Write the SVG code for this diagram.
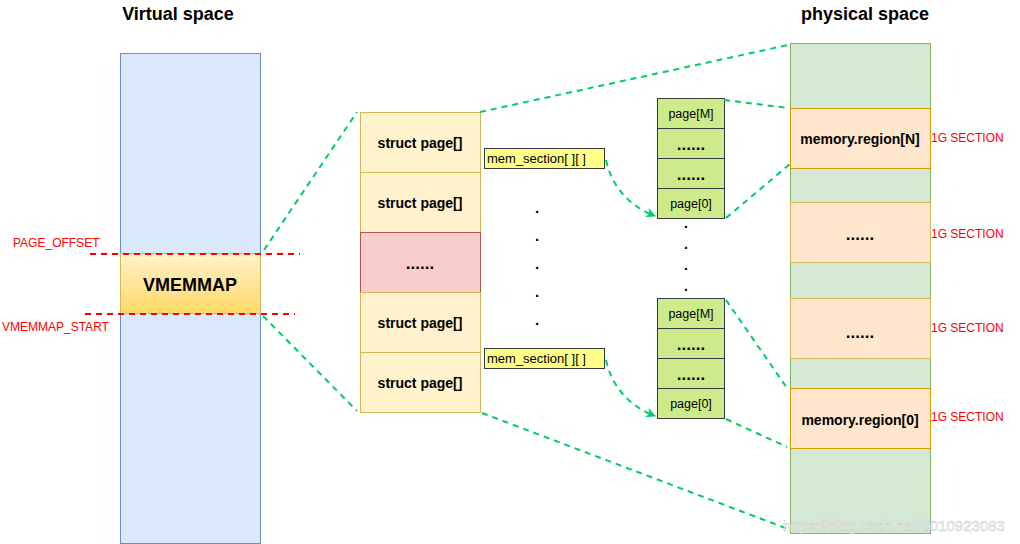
<svg xmlns="http://www.w3.org/2000/svg" width="1020" height="544" viewBox="0 0 1020 544">
<style>
text{font-family:"Liberation Sans",Arial,sans-serif;text-anchor:middle;dominant-baseline:central}
.title{font-size:18px;font-weight:bold;fill:#000}
.sp{fill:#fff2cc;stroke:#d6b656;stroke-width:1}
.spt{font-size:14px;font-weight:bold;fill:#000}
.ms{fill:#ffff88;stroke:#36393d;stroke-width:1}
.mst{font-size:13px;fill:#000;text-anchor:start}
.pg{fill:#cdeb8b;stroke:#36393d;stroke-width:1}
.pgt{font-size:12.5px;fill:#000}
.dd{font-size:17px;font-weight:bold;fill:#000}
.grn{fill:#d5e8d4;stroke:#82b366;stroke-width:1}
.org{fill:#ffe6cc;stroke:#d79b00;stroke-width:1}
.sec{font-size:12px;fill:#ff0000;text-anchor:start}
.red{font-size:12px;fill:#ff0000;text-anchor:start}
.rdash{stroke:#ff0000;stroke-width:2;stroke-dasharray:6 5;fill:none}
.gdash{stroke:#00cc66;stroke-width:2;stroke-dasharray:6 5;fill:none}
</style>
<defs>
<linearGradient id="vg" x1="0" y1="0" x2="0" y2="1">
<stop offset="0" stop-color="#fff2cc"/>
<stop offset="1" stop-color="#ffd966"/>
</linearGradient>
<marker id="ah" viewBox="0 0 10 10" refX="9" refY="5" markerWidth="5" markerHeight="5" orient="auto">
<path d="M0,0 L10,5 L0,10 L3,5 Z" fill="#00cc66"/>
</marker>
</defs>
<rect width="1020" height="544" fill="#ffffff"/>

<text class="title" x="178" y="14">Virtual space</text>
<text class="title" x="865" y="14">physical space</text>

<g id="virtual">
<rect x="120.5" y="53.5" width="140" height="490" fill="#dae8fc" stroke="#6c8ebf"/>
</g>
<g id="vmemmap">
<rect x="120.5" y="253.5" width="140" height="60" fill="url(#vg)" stroke="#d6b656"/>
<text x="190" y="285" style="font-size:18px;font-weight:bold">VMEMMAP</text>
</g>
<g id="markers">
<line class="rdash" x1="90" y1="254" x2="300" y2="254"/>
<line class="rdash" x1="85" y1="314" x2="295" y2="314"/>
<text class="red" x="13" y="243">PAGE_OFFSET</text>
<text class="red" x="2" y="327">VMEMMAP_START</text>
</g>

<g id="structpages">
<rect class="sp" x="360.5" y="112.5" width="120" height="60"/>
<text class="spt" x="420" y="143">struct page[]</text>
<rect class="sp" x="360.5" y="172.5" width="120" height="60"/>
<text class="spt" x="420" y="203">struct page[]</text>
<rect x="360.5" y="232.5" width="120" height="60" fill="#f8cecc" stroke="#b85450"/>
<text class="dd" x="420" y="263">......</text>
<rect class="sp" x="360.5" y="292.5" width="120" height="60"/>
<text class="spt" x="420" y="323">struct page[]</text>
<rect class="sp" x="360.5" y="352.5" width="120" height="60"/>
<text class="spt" x="420" y="383">struct page[]</text>
</g>

<g id="memsection1">
<rect class="ms" x="484.5" y="148.5" width="120" height="20"/>
<text class="mst" x="487" y="158.5">mem_section[ ][ ]</text>
</g>
<g id="memsection2">
<rect class="ms" x="484.5" y="348.5" width="120" height="20"/>
<text class="mst" x="487" y="358.5">mem_section[ ][ ]</text>
</g>

<g id="dots1" style="font-size:15px;font-weight:bold">
<text x="537" y="207">.</text>
<text x="537" y="235">.</text>
<text x="537" y="263">.</text>
<text x="537" y="291">.</text>
<text x="537" y="319">.</text>
</g>
<g id="dots2" style="font-size:14px;font-weight:bold">
<text x="686" y="223">.</text>
<text x="686" y="244">.</text>
<text x="686" y="265">.</text>
<text x="686" y="286">.</text>
</g>

<g id="pages1">
<rect class="pg" x="657.5" y="98.5" width="67" height="30"/>
<text class="pgt" x="691" y="114">page[M]</text>
<rect class="pg" x="657.5" y="128.5" width="67" height="30"/>
<text class="dd" x="691" y="144">......</text>
<rect class="pg" x="657.5" y="158.5" width="67" height="30"/>
<text class="dd" x="691" y="174">......</text>
<rect class="pg" x="657.5" y="188.5" width="67" height="30"/>
<text class="pgt" x="691" y="204">page[0]</text>
</g>
<g id="pages2">
<rect class="pg" x="657.5" y="298.5" width="67" height="30"/>
<text class="pgt" x="691" y="314">page[M]</text>
<rect class="pg" x="657.5" y="328.5" width="67" height="30"/>
<text class="dd" x="691" y="344">......</text>
<rect class="pg" x="657.5" y="358.5" width="67" height="30"/>
<text class="dd" x="691" y="374">......</text>
<rect class="pg" x="657.5" y="388.5" width="67" height="30"/>
<text class="pgt" x="691" y="404">page[0]</text>
</g>

<g id="physical">
<rect class="grn" x="790.5" y="43.5" width="140" height="490"/>
<rect class="org" x="790.5" y="108.5" width="140" height="60"/>
<text class="spt" x="860" y="139">memory.region[N]</text>
<rect class="org" x="790.5" y="202.5" width="140" height="60" style="stroke:#d6b656"/>
<text class="dd" x="860" y="234">......</text>
<rect class="org" x="790.5" y="298.5" width="140" height="60" style="stroke:#d6b656"/>
<text class="dd" x="860" y="332">......</text>
<rect class="org" x="790.5" y="388.5" width="140" height="60"/>
<text class="spt" x="860" y="420">memory.region[0]</text>
<text class="sec" x="931" y="138">1G SECTION</text>
<text class="sec" x="931" y="234">1G SECTION</text>
<text class="sec" x="931" y="328">1G SECTION</text>
<text class="sec" x="931" y="417">1G SECTION</text>
</g>

<g id="connectors">
<line class="gdash" x1="264" y1="250" x2="357" y2="112"/>
<line class="gdash" x1="263" y1="316" x2="357" y2="411"/>
<line class="gdash" x1="480" y1="112" x2="788" y2="45"/>
<line class="gdash" x1="482" y1="413" x2="788" y2="529"/>
<line class="gdash" x1="724" y1="100" x2="788" y2="108"/>
<line class="gdash" x1="726" y1="218" x2="790" y2="164"/>
<line class="gdash" x1="726" y1="300" x2="787" y2="388"/>
<line class="gdash" x1="726" y1="419" x2="787" y2="447"/>
<path class="gdash" d="M606,160 Q615,200 655,216" marker-end="url(#ah)"/>
<path class="gdash" d="M606,360 Q615,400 655,416" marker-end="url(#ah)"/>
</g>

<text x="894" y="525" style="font-size:15px;fill:#ffffff;fill-opacity:0.7;stroke:#c8c8c8;stroke-width:0.5">https://blog.csdn.net/u010923083</text>
</svg>
